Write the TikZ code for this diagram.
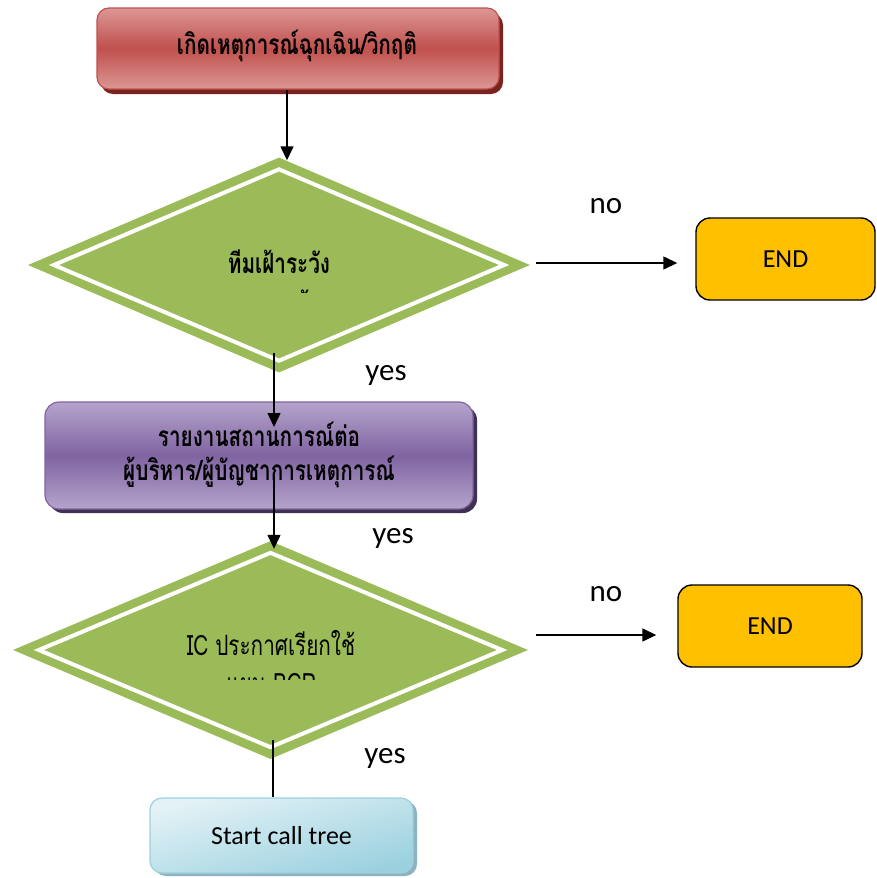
\documentclass[tikz,border=0pt]{standalone}
\usepackage{fontspec}
\setmainfont{Carlito}
\newfontfamily\thai[Script=Thai,FakeStretch=0.74]{Loma}
\usetikzlibrary{shapes.geometric,arrows.meta,shadows}
\definecolor{redmd}{HTML}{C0504D}
\definecolor{redlt}{HTML}{DC9795}
\definecolor{reddk}{HTML}{7A2422}
\definecolor{purmd}{HTML}{8064A2}
\definecolor{purlt}{HTML}{B5A4CB}
\definecolor{purdk}{HTML}{3F3151}
\definecolor{bluelt}{HTML}{E3F2F6}
\definecolor{bluemd}{HTML}{9BD1DF}
\definecolor{bluedk}{HTML}{8FB3BE}
\definecolor{dgreen}{HTML}{9BBB59}
\definecolor{endfill}{HTML}{FFC000}
\begin{document}
\begin{tikzpicture}[x=1pt,y=-1pt,
  arr/.style={line width=1.4pt,-{Triangle[width=13pt,length=14pt]}},
  plainln/.style={line width=1.4pt},
  thaibold/.style={font=\thai\bfseries\fontsize{28}{34}\selectfont, inner sep=0pt, align=center},
  thaireg/.style={font=\thai\fontsize{28}{34}\selectfont, inner sep=0pt, align=center},
  lbl/.style={font=\fontsize{31}{36}\selectfont, inner sep=0pt},
  redbox/.style={rounded corners=12pt, draw=redmd, line width=1.2pt,
    top color=redlt, bottom color=redlt, middle color=redmd,
    drop shadow={shadow xshift=4pt, shadow yshift=-5pt, fill=reddk, opacity=1},
    minimum width=402pt, minimum height=81pt, inner sep=0pt},
  purbox/.style={rounded corners=14pt, draw=purmd, line width=1.2pt,
    top color=purlt, bottom color=purlt, middle color=purmd,
    drop shadow={shadow xshift=4pt, shadow yshift=-4pt, fill=purdk, opacity=1},
    minimum width=428pt, minimum height=107pt, inner sep=0pt},
  bluebox/.style={rounded corners=12pt, draw=bluemd, line width=1.2pt,
    top color=bluelt, bottom color=bluemd, shading angle=15,
    drop shadow={shadow xshift=4pt, shadow yshift=-3pt, fill=bluedk, opacity=1},
    minimum width=263pt, minimum height=75pt, inner sep=0pt,
    font=\fontsize{26}{30}\selectfont},
  endbox/.style={rounded corners=14pt, draw=black, line width=1.4pt, fill=endfill,
    inner sep=0pt, font=\fontsize{26}{30}\selectfont},
  dia/.style={diamond, fill=dgreen, inner sep=0pt},
  diain/.style={diamond, draw=white, line width=4pt, inner sep=0pt}
]
\useasboundingbox (0,0) rectangle (876,878);

% boxes
\node[redbox] (top) at (298,48.5) {};
\node[thaibold] (topt) at (297,46) {เกิดเหตุการณ์ฉุกเฉิน/วิกฤติ};

\node[dia, minimum width=502pt, minimum height=215pt, aspect=2.33] (d1) at (279,265) {};
\node[diain, minimum width=452pt, minimum height=193pt, aspect=2.34] (d1in) at (279,265) {};
\node[thaibold] (d1t) at (279,262) {ทีมเฝ้าระวัง};
\begin{scope}
  \clip (150,277) rectangle (420,292);
  \node[thaibold] (d1t2) at (306,305) {ตั้ง};
\end{scope}

\node[purbox] (pb) at (259,455.5) {};
\node[thaibold] (pbt) at (259,455) {รายงานสถานการณ์ต่อ\\ผู้บริหาร/ผู้บัญชาการเหตุการณ์};

\node[dia, minimum width=515pt, minimum height=218pt, aspect=2.36] (d2) at (270.5,650) {};
\node[diain, minimum width=465pt, minimum height=196pt, aspect=2.37] (d2in) at (270.5,650) {};
\node[thaireg] (d2t) at (271,643) {IC ประกาศเรียกใช้};
\begin{scope}
  \clip (150,660) rectangle (420,679);
  \node[thaireg] (d2t2) at (271,684) {แผน BCP};
\end{scope}

\node[bluebox] (sb) at (281.5,835.5) {Start call tree};

\node[endbox, minimum width=179pt, minimum height=82pt] (end1) at (785.5,259) {END};
\node[endbox, minimum width=184pt, minimum height=82pt] (end2) at (770,626) {END};

% connectors
\draw[arr] ([xshift=-11pt]top.south) -- ([xshift=8pt,yshift=-3pt]d1.north);
\draw[arr] ([xshift=-5pt,yshift=20pt]d1.south) -- ([xshift=15pt,yshift=28.5pt]pb.center);
\draw[arr] ([xshift=15pt,yshift=-21pt]pb.center) -- ([xshift=3.5pt,yshift=-8pt]d2.north);
\draw[plainln] ([xshift=2.5pt,yshift=19pt]d2.south) -- ([xshift=-8.5pt]sb.north);
\draw[arr] ([xshift=6pt,yshift=2pt]d1.east) -- ([xshift=-18pt,yshift=-4pt]end1.west);
\draw[arr] ([xshift=8pt,yshift=15pt]d2.east) -- ([xshift=-21pt,yshift=-9pt]end2.west);

% labels
\node[lbl] (no1) at (606,206) {no};
\node[lbl] (no2) at (606,594) {no};
\node[lbl] (yes1) at (386,375) {yes};
\node[lbl] (yes2) at (393,538) {yes};
\node[lbl] (yes3) at (385,758) {yes};
\end{tikzpicture}
\end{document}
